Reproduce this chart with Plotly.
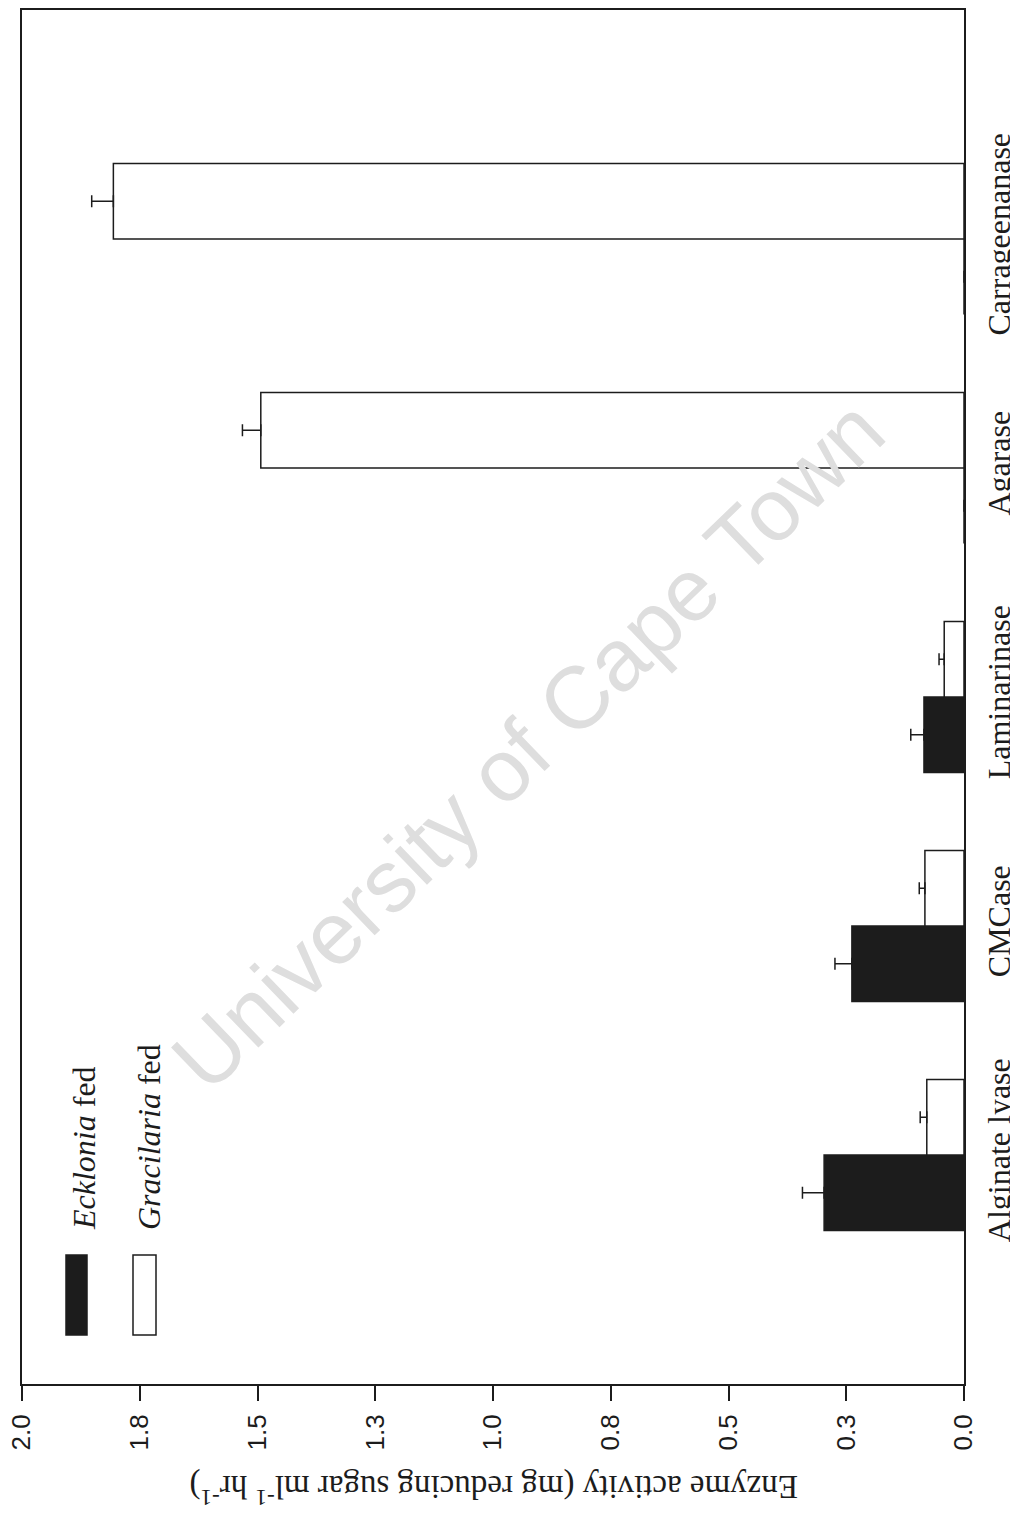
import plotly.graph_objects as go

# ---- data ----
categories = ["Alginate lyase", "CMCase", "Laminarinase", "Agarase", "Carrageenanase"]
ecklonia = [0.297, 0.238, 0.085, 0.0, 0.0]
ecklonia_err = [0.046, 0.036, 0.028, 0.0, 0.0]
gracilaria = [0.079, 0.083, 0.042, 1.493, 1.806]
gracilaria_err = [0.014, 0.012, 0.011, 0.039, 0.046]
tick_vals = [0.0, 0.25, 0.5, 0.75, 1.0, 1.25, 1.5, 1.75, 2.0]
tick_text = ["0.0", "0.3", "0.5", "0.8", "1.0", "1.3", "1.5", "1.8", "2.0"]
series_names = ["Ecklonia fed", "Gracilaria fed"]

PAGE_W, PAGE_H = 1018, 1516
OFF = 8  # page body margin
W, H = PAGE_W - OFF, PAGE_H - OFF
L, R, T, B = 22, 964, 10, 1384  # plot area in page pixels


def px(xp):
    return (xp - L) / (R - L)


def py(yp):
    return (B - yp) / (B - T)


SERIF = "Liberation Serif, Times New Roman, serif"
SANS = "Liberation Sans, Arial, sans-serif"
INK = "#1c1c1c"

fig = go.Figure()
fig.add_trace(go.Bar(
    y=categories, x=ecklonia, orientation="h", name=series_names[0],
    marker=dict(color=INK, line=dict(color=INK, width=1.5)),
    error_x=dict(type="data", symmetric=False, array=ecklonia_err,
                 arrayminus=[0] * len(ecklonia_err),
                 color=INK, thickness=1.5, width=6),
))
fig.add_trace(go.Bar(
    y=categories, x=gracilaria, orientation="h", name=series_names[1],
    marker=dict(color="white", line=dict(color=INK, width=1.5)),
    error_x=dict(type="data", symmetric=False, array=gracilaria_err,
                 arrayminus=[0] * len(gracilaria_err),
                 color=INK, thickness=1.5, width=6),
))

fig.update_layout(
    width=W, height=H,
    margin=dict(l=L - OFF, r=PAGE_W - R, t=T - OFF, b=PAGE_H - B, pad=0,
                autoexpand=False),
    plot_bgcolor="white", paper_bgcolor="white",
    barmode="group", bargap=0.34, bargroupgap=0,
    showlegend=False,
    xaxis=dict(
        range=[2.0, 0.0], tickvals=tick_vals, ticktext=tick_text,
        tickangle=-90, ticks="outside", ticklen=15, tickwidth=1.5, tickcolor=INK,
        ticklabelstandoff=3, automargin=False, ticklabeloverflow="allow",
        showline=True, linecolor=INK, linewidth=2, mirror=True,
        showgrid=False, zeroline=False,
        tickfont=dict(family=SANS, size=26, color=INK),
    ),
    yaxis=dict(
        type="category", range=[-1, 5], side="right",
        tickangle=-90, ticks="", ticklabelstandoff=6, automargin=False,
        ticklabeloverflow="allow",
        showline=True, linecolor=INK, linewidth=2, mirror=True,
        showgrid=False, zeroline=False,
        tickfont=dict(family=SERIF, size=32, color=INK),
    ),
)

# axis title (upside down, as in the scanned page)
fig.add_annotation(
    xref="paper", yref="paper", x=px(494), y=py(1490),
    text="Enzyme activity (mg reducing sugar ml<sup>-1</sup> hr<sup>-1</sup>)",
    textangle=180, showarrow=False, xanchor="center", yanchor="middle",
    font=dict(family=SERIF, size=33, color=INK),
)

# legend (rotated)
fig.add_shape(type="rect", xref="paper", yref="paper",
              x0=px(66), x1=px(87), y0=py(1335), y1=py(1255),
              fillcolor=INK, line=dict(color=INK, width=1.5))
fig.add_shape(type="rect", xref="paper", yref="paper",
              x0=px(133), x1=px(156), y0=py(1335), y1=py(1255),
              fillcolor="white", line=dict(color=INK, width=1.5))
fig.add_annotation(
    xref="paper", yref="paper", x=px(84), y=py(1232),
    text="<i>Ecklonia</i> fed", textangle=-90, showarrow=False,
    xanchor="center", yanchor="bottom",
    font=dict(family=SERIF, size=32, color=INK),
)
fig.add_annotation(
    xref="paper", yref="paper", x=px(149), y=py(1232),
    text="<i>Gracilaria</i> fed", textangle=-90, showarrow=False,
    xanchor="center", yanchor="bottom",
    font=dict(family=SERIF, size=32, color=INK),
)

# watermark
fig.add_annotation(
    xref="paper", yref="paper", x=px(527), y=py(745),
    text="University of Cape Town", textangle=-44, showarrow=False,
    xanchor="center", yanchor="middle",
    font=dict(family=SANS, size=88, color="#dedede"),
)

fig.write_html("out.html")
